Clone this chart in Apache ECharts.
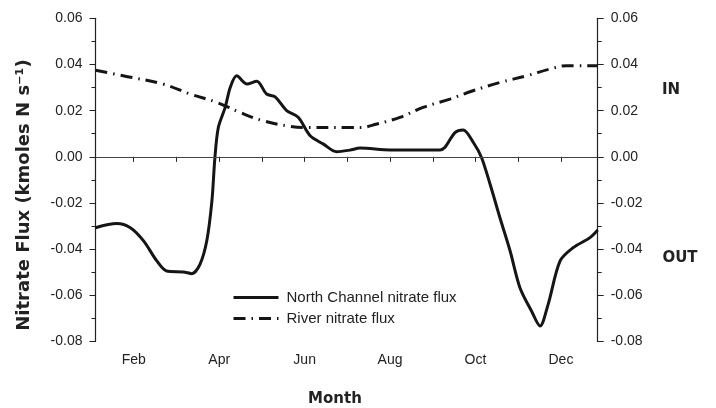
<!DOCTYPE html>
<html>
<head>
<meta charset="utf-8">
<script src="https://cdn.jsdelivr.net/npm/echarts@6/dist/echarts.min.js"></script>
<style>
  html, body { margin: 0; padding: 0; background: #fff; }
  #chart { width: 716px; height: 408px; }
</style>
</head>
<body>
<div id="chart"></div>
<script>
// x values are months (Jan = 1, Feb = 2 ...)
var monthNames = ['', 'Jan', 'Feb', 'Mar', 'Apr', 'May', 'Jun', 'Jul', 'Aug', 'Sep', 'Oct', 'Nov', 'Dec'];
var tickMonths = [2, 3, 4, 5, 6, 7, 8, 9, 10, 11, 12];
var labelMonths = [2, 4, 6, 8, 10, 12];

var northMonth = [1.105, 1.60, 1.92, 2.23, 2.54, 2.77, 3.16, 3.36, 3.55, 3.71, 3.83, 3.90, 3.98, 4.14, 4.26, 4.41,
  4.65, 4.88, 5.11, 5.31, 5.58, 5.85, 6.13, 6.44, 6.75, 7.06, 7.30, 8.00, 9.17, 9.28, 9.52, 9.71, 9.95,
  10.14, 10.34, 10.57, 10.81, 11.04, 11.31, 11.51, 11.70, 11.98, 12.29, 12.68, 12.86];
var northFlux = [-0.0307, -0.0289, -0.0307, -0.0364, -0.0451, -0.0495, -0.0499, -0.0506, -0.0466, -0.0364, -0.0191,
  -0.0003, 0.0127, 0.0214, 0.0301, 0.0351, 0.0315, 0.0327, 0.0272, 0.0260, 0.0200, 0.0171, 0.0091, 0.0055,
  0.0022, 0.0029, 0.0038, 0.0030, 0.0030, 0.0040, 0.0105, 0.0116, 0.0062, -0.0003, -0.0118, -0.0263, -0.0408,
  -0.0567, -0.0668, -0.0733, -0.0639, -0.0451, -0.0393, -0.0350, -0.0317];

var riverMonth = [1.105, 1.75, 2.69, 3.32, 3.94, 4.49, 5.03, 5.66, 6.06, 7.06, 7.30, 7.69, 8.23, 8.77, 9.40,
  9.94, 10.57, 11.20, 11.74, 12.14, 12.86];
var riverFlux = [0.0375, 0.0351, 0.0315, 0.0272, 0.0236, 0.0192, 0.0156, 0.0132, 0.0127, 0.0127, 0.0127,
  0.0142, 0.0171, 0.0214, 0.0250, 0.0286, 0.0322, 0.0351, 0.0380, 0.0395, 0.0395];

function pairs(xs, ys) {
  return xs.map(function (x, i) { return [x, ys[i]] })
}

var lab = { fontFamily: 'Liberation Sans', fontSize: 14, color: '#222' }

function yAxisOpt(pos) {
  return {
    type: 'value',
    position: pos,
    min: -0.08,
    max: 0.06,
    interval: 0.02,
    axisLine: { show: true, lineStyle: { color: '#222', width: 1.2 } },
    axisTick: { show: true, length: 6, lineStyle: { color: '#222' } },
    minorTick: { show: true, splitNumber: 2, length: 4, lineStyle: { color: '#222' } },
    splitLine: { show: false },
    axisLabel: Object.assign({ margin: 13, formatter: function (v) { return v.toFixed(2) } }, lab)
  }
}

var chart = echarts.init(document.getElementById('chart'))
chart.setOption({
  animation: false,
  grid: { left: 95.5, right: 118.3, top: 18.3, bottom: 66.5, containLabel: false },
  legend: {
    orient: 'vertical',
    left: 232,
    top: 290,
    padding: 0,
    itemWidth: 45,
    itemHeight: 14,
    itemGap: 6,
    itemStyle: { opacity: 0 },
    lineStyle: { width: 3 },
    textStyle: { fontFamily: 'Liberation Sans', fontSize: 15, color: '#222', padding: [0, 0, 0, 3] },
    data: ['North Channel nitrate flux', 'River nitrate flux']
  },
  xAxis: {
    type: 'value',
    min: 1.105,
    max: 12.86,
    axisLine: { show: true, lineStyle: { color: '#222', width: 1.2 } },
    axisTick: { show: true, length: 5, customValues: tickMonths, lineStyle: { color: '#222' } },
    splitLine: { show: false },
    axisLabel: Object.assign({
      margin: 12,
      customValues: labelMonths,
      formatter: function (v) { return monthNames[Math.round(v)] }
    }, lab)
  },
  yAxis: [yAxisOpt('left'), yAxisOpt('right')],
  series: [
    {
      name: 'North Channel nitrate flux',
      type: 'line',
      data: pairs(northMonth, northFlux),
      smooth: 0.3,
      showSymbol: false,
      symbol: 'none',
      lineStyle: { color: '#151515', width: 3 },
      itemStyle: { color: '#151515' },
      markLine: {
        silent: true,
        symbol: 'none',
        label: { show: false },
        lineStyle: { color: '#444', width: 1, type: 'solid' },
        data: [{ yAxis: 0 }]
      }
    },
    {
      name: 'River nitrate flux',
      type: 'line',
      data: pairs(riverMonth, riverFlux),
      smooth: 0.4,
      showSymbol: false,
      symbol: 'none',
      lineStyle: { color: '#151515', width: 3, type: [12, 6, 1.5, 6] },
      itemStyle: { color: '#151515' }
    }
  ],
  graphic: [
    {
      type: 'text', x: 24, y: 195, rotation: Math.PI / 2,
      style: {
        text: 'Nitrate Flux (kmoles N s\u207B\u00B9)',
        font: 'bold 18px "DejaVu Sans"', fill: '#222',
        textAlign: 'center', textVerticalAlign: 'middle'
      }
    },
    {
      type: 'text', x: 335, y: 399,
      style: { text: 'Month', font: 'bold 15px "DejaVu Sans"', fill: '#222', textAlign: 'center', textVerticalAlign: 'middle' }
    },
    {
      type: 'text', x: 671, y: 90,
      style: { text: 'IN', font: 'bold 15px "DejaVu Sans"', fill: '#222', textAlign: 'center', textVerticalAlign: 'middle' }
    },
    {
      type: 'text', x: 680, y: 258,
      style: { text: 'OUT', font: 'bold 15px "DejaVu Sans"', fill: '#222', textAlign: 'center', textVerticalAlign: 'middle' }
    }
  ]
})
</script>
</body>
</html>
